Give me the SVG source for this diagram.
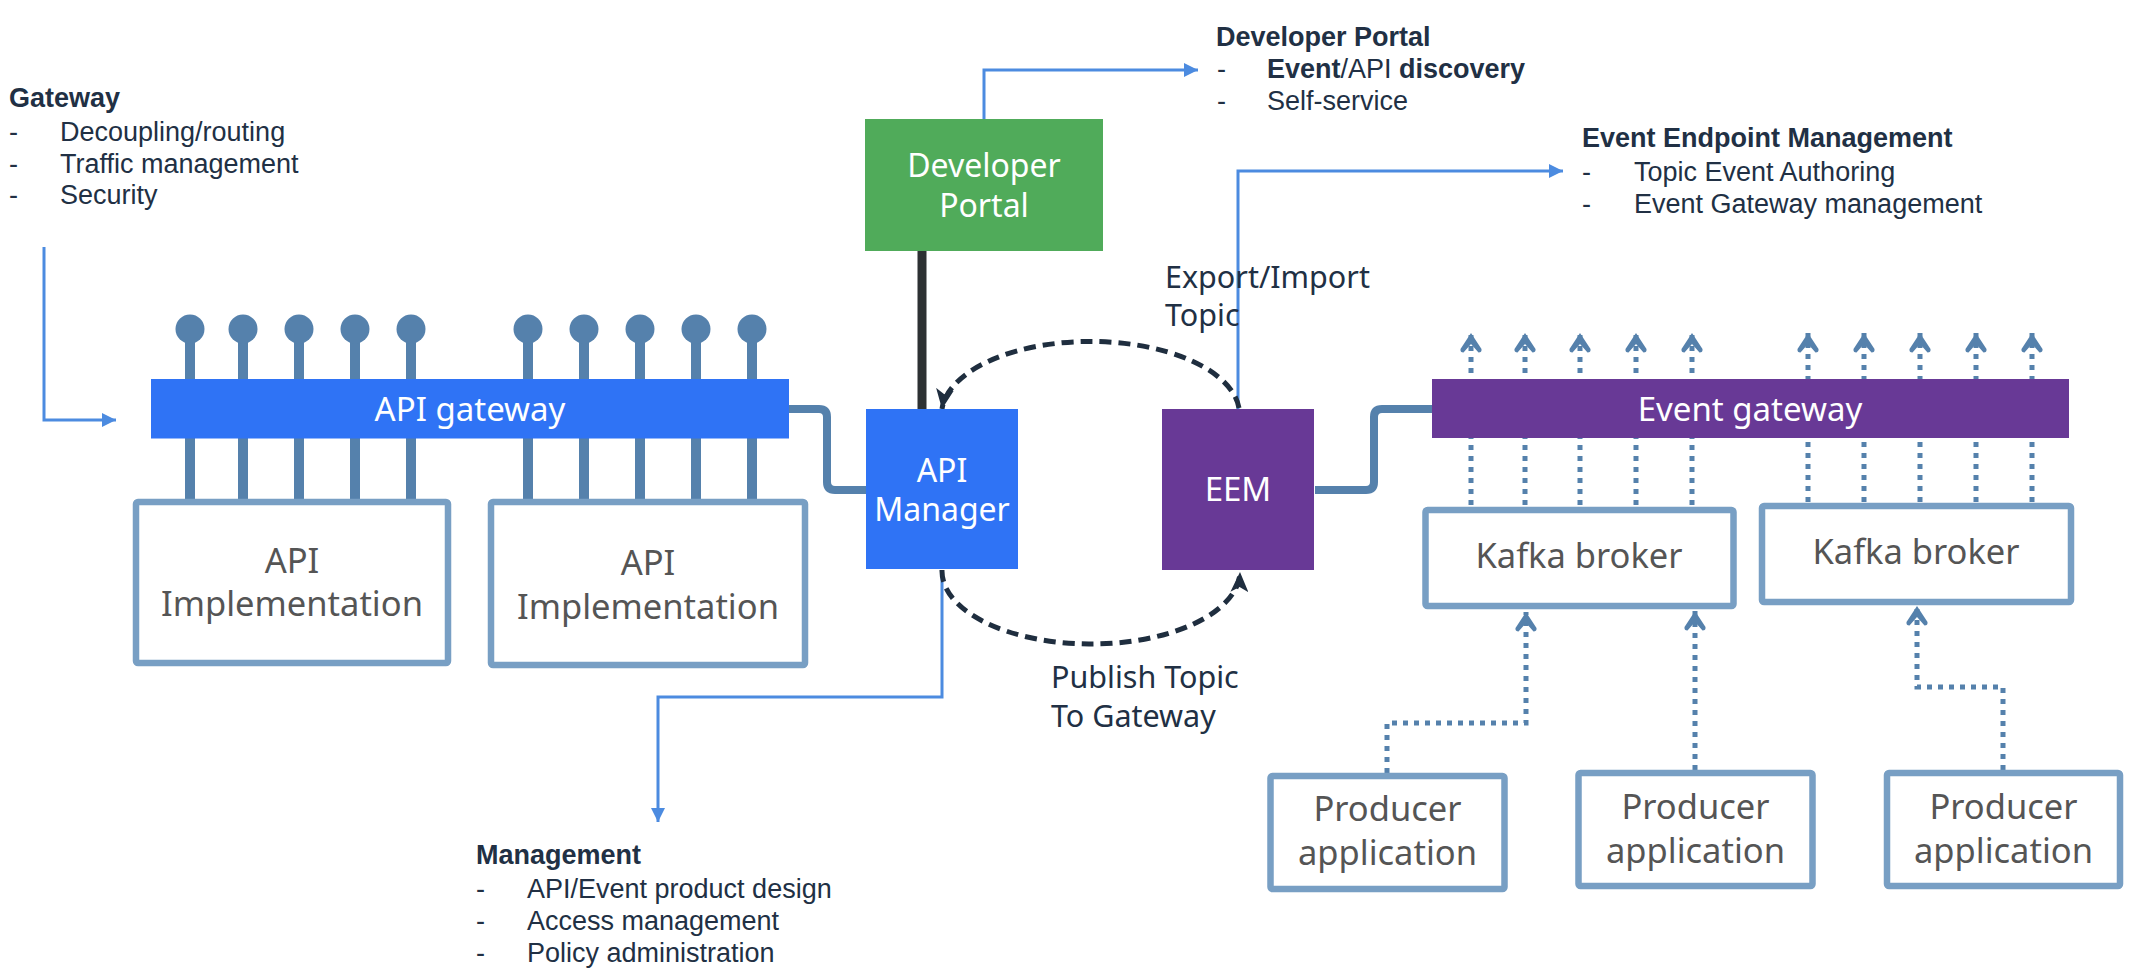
<svg xmlns="http://www.w3.org/2000/svg" width="2138" height="978" viewBox="0 0 2138 978">
<style>
.ann{font-family:"Liberation Sans",Arial,sans-serif;font-size:27px;fill:#213044}
.b{font-weight:bold}
.lbl{font-family:"Noto Sans","Open Sans",sans-serif;font-size:30.5px;fill:#213044}
.nt{font-family:"Noto Sans","Open Sans",sans-serif;font-size:34.5px;text-anchor:middle}
.w{fill:#ffffff}
.g{fill:#555555}
.box{fill:#ffffff;stroke:#789fc4;stroke-width:6.5}
.stem{stroke:#5581ac;stroke-width:10;fill:none}
.pipe{stroke:#5581ac;stroke-width:8;fill:none}
.dot{stroke:#5581ac;stroke-width:5;fill:none;stroke-dasharray:5 6}
.thin{stroke:#4c8be0;stroke-width:3;fill:none}
.arc{stroke:#1f2e3f;stroke-width:5;fill:none;stroke-dasharray:12 7}
</style>
<defs>
<marker id="blueArrow" viewBox="0 0 14 14" refX="14" refY="7" markerWidth="14" markerHeight="14" markerUnits="userSpaceOnUse" orient="auto">
<path d="M0,0 L14,7 L0,14 Z" fill="#4c8be0"/>
</marker>
<marker id="chev" viewBox="0 0 20 22" refX="20" refY="11" markerWidth="20" markerHeight="22" markerUnits="userSpaceOnUse" orient="auto">
<path d="M20,11 L4,0.5 Q0.5,0 0.5,3.5 L9,11 L0.5,18.5 Q0.5,22 4,21.5 Z" fill="#5581ac"/>
</marker>
<marker id="darkArrow" viewBox="0 0 20 18" refX="20" refY="9" markerWidth="20" markerHeight="18" markerUnits="userSpaceOnUse" orient="auto">
<path d="M0,0 L20,9 L0,18 L5,9 Z" fill="#1f2e3f"/>
</marker>
</defs>

<!-- annotation texts -->
<g id="gateway-notes">
<text class="ann b" x="9" y="107">Gateway</text>
<text class="ann" x="9" y="141">-</text><text class="ann" x="60" y="141">Decoupling/routing</text>
<text class="ann" x="9" y="173">-</text><text class="ann" x="60" y="173">Traffic management</text>
<text class="ann" x="9" y="204">-</text><text class="ann" x="60" y="204">Security</text>
</g>
<g id="devportal-notes">
<text class="ann b" x="1216" y="46">Developer Portal</text>
<text class="ann" x="1217" y="78">-</text><text class="ann" x="1267" y="78"><tspan class="b">Event</tspan>/API <tspan class="b">discovery</tspan></text>
<text class="ann" x="1217" y="110">-</text><text class="ann" x="1267" y="110">Self-service</text>
</g>
<g id="eem-notes">
<text class="ann b" x="1582" y="147">Event Endpoint Management</text>
<text class="ann" x="1582" y="181">-</text><text class="ann" x="1634" y="181">Topic Event Authoring</text>
<text class="ann" x="1582" y="213">-</text><text class="ann" x="1634" y="213">Event Gateway management</text>
</g>
<g id="management-notes">
<text class="ann b" x="476" y="864">Management</text>
<text class="ann" x="476" y="898">-</text><text class="ann" x="527" y="898">API/Event product design</text>
<text class="ann" x="476" y="930">-</text><text class="ann" x="527" y="930">Access management</text>
<text class="ann" x="476" y="962">-</text><text class="ann" x="527" y="962">Policy administration</text>
</g>

<!-- connectors -->
<g id="connectors">
<path class="thin" d="M44,247 V420 H116" marker-end="url(#blueArrow)"/>
<path class="thin" d="M984,119 V70 H1198" marker-end="url(#blueArrow)"/>
<path class="thin" d="M1238,409 V171 H1563" marker-end="url(#blueArrow)"/>
<path class="thin" d="M942,570 V697 H658 V822" marker-end="url(#blueArrow)"/>
<line x1="922" y1="251" x2="922" y2="409" stroke="#2d3133" stroke-width="9"/>
<path class="pipe" d="M789,409 H819 Q827,409 827,417 V482 Q827,490 835,490 H866"/>
<path class="pipe" d="M1315,490 H1366 Q1374,490 1374,482 V417 Q1374,409 1382,409 H1432"/>
<path class="arc" d="M1239,408 A149,73 0 0 0 942,409" marker-end="url(#darkArrow)"/>
<path class="arc" d="M942,570 A149,73 0 0 0 1240,572" marker-end="url(#darkArrow)"/>
<!-- lollipop stems -->
<g class="stems">
<line class="stem" x1="190" y1="329" x2="190" y2="500"/>
<line class="stem" x1="243" y1="329" x2="243" y2="500"/>
<line class="stem" x1="299" y1="329" x2="299" y2="500"/>
<line class="stem" x1="355" y1="329" x2="355" y2="500"/>
<line class="stem" x1="411" y1="329" x2="411" y2="500"/>
<line class="stem" x1="528" y1="329" x2="528" y2="500"/>
<line class="stem" x1="584" y1="329" x2="584" y2="500"/>
<line class="stem" x1="640" y1="329" x2="640" y2="500"/>
<line class="stem" x1="696" y1="329" x2="696" y2="500"/>
<line class="stem" x1="752" y1="329" x2="752" y2="500"/>
</g>
<g fill="#5581ac">
<circle cx="190" cy="329" r="14.5"/><circle cx="243" cy="329" r="14.5"/><circle cx="299" cy="329" r="14.5"/><circle cx="355" cy="329" r="14.5"/><circle cx="411" cy="329" r="14.5"/>
<circle cx="528" cy="329" r="14.5"/><circle cx="584" cy="329" r="14.5"/><circle cx="640" cy="329" r="14.5"/><circle cx="696" cy="329" r="14.5"/><circle cx="752" cy="329" r="14.5"/>
</g>
<!-- event dotted arrows -->
<g>
<path class="dot" d="M1471,505 V333" marker-end="url(#chev)"/>
<path class="dot" d="M1525,505 V333" marker-end="url(#chev)"/>
<path class="dot" d="M1580,505 V333" marker-end="url(#chev)"/>
<path class="dot" d="M1636,505 V333" marker-end="url(#chev)"/>
<path class="dot" d="M1692,505 V333" marker-end="url(#chev)"/>
<path class="dot" d="M1808,502 V333" marker-end="url(#chev)"/>
<path class="dot" d="M1864,502 V333" marker-end="url(#chev)"/>
<path class="dot" d="M1920,502 V333" marker-end="url(#chev)"/>
<path class="dot" d="M1976,502 V333" marker-end="url(#chev)"/>
<path class="dot" d="M2032,502 V333" marker-end="url(#chev)"/>
</g>
<path class="dot" d="M1387,773 V723 H1526 V612" marker-end="url(#chev)"/>
<path class="dot" d="M1695,770 V611" marker-end="url(#chev)"/>
<path class="dot" d="M2003,770 V687 H1917 V606" marker-end="url(#chev)"/>
</g>

<!-- labels -->
<g id="label-export">
<text class="lbl" x="1165" y="288">Export/Import</text>
<text class="lbl" x="1165" y="326">Topic</text>
</g>
<g id="label-publish">
<text class="lbl" x="1051" y="688">Publish Topic</text>
<text class="lbl" x="1051" y="727">To Gateway</text>
</g>

<!-- nodes -->
<g id="api-gateway">
<rect x="151" y="379" width="638" height="59.5" fill="#2f73f5"/>
<text class="nt w" x="470" y="421" style="font-size:33px">API gateway</text>
</g>
<g id="api-impl-1">
<rect class="box" x="136" y="502" width="312" height="161" rx="2"/>
<text class="nt g" x="292" y="573">API</text>
<text class="nt g" x="292" y="616">Implementation</text>
</g>
<g id="api-impl-2">
<rect class="box" x="491" y="502" width="314" height="163" rx="2"/>
<text class="nt g" x="648" y="575">API</text>
<text class="nt g" x="648" y="619">Implementation</text>
</g>
<g id="developer-portal">
<rect x="865" y="119" width="238" height="132" fill="#50ab5a"/>
<text class="nt w" x="984" y="177" style="font-size:32px">Developer</text>
<text class="nt w" x="984" y="217" style="font-size:32px">Portal</text>
</g>
<g id="api-manager">
<rect x="866" y="409" width="152" height="160" fill="#2f73f5"/>
<text class="nt w" x="942" y="482" style="font-size:32px">API</text>
<text class="nt w" x="942" y="521" style="font-size:32px">Manager</text>
</g>
<g id="eem">
<rect x="1162" y="409" width="152" height="161" fill="#683996"/>
<text class="nt w" x="1238" y="501" style="font-size:33px">EEM</text>
</g>
<g id="event-gateway">
<rect x="1432" y="379" width="637" height="59" fill="#683996"/>
<text class="nt w" x="1750" y="421" style="font-size:33px">Event gateway</text>
</g>
<g id="kafka-1">
<rect class="box" x="1425.5" y="510" width="308" height="96" rx="2"/>
<text class="nt g" x="1579" y="568">Kafka broker</text>
</g>
<g id="kafka-2">
<rect class="box" x="1762" y="506" width="309" height="96" rx="2"/>
<text class="nt g" x="1916" y="564">Kafka broker</text>
</g>
<g id="producer-1">
<rect class="box" x="1270.5" y="776" width="234" height="113" rx="2"/>
<text class="nt g" x="1387.5" y="821">Producer</text>
<text class="nt g" x="1387.5" y="865">application</text>
</g>
<g id="producer-2">
<rect class="box" x="1578.5" y="773" width="234" height="113" rx="2"/>
<text class="nt g" x="1695.5" y="819">Producer</text>
<text class="nt g" x="1695.5" y="863">application</text>
</g>
<g id="producer-3">
<rect class="box" x="1887" y="773" width="233" height="113" rx="2"/>
<text class="nt g" x="2003.5" y="819">Producer</text>
<text class="nt g" x="2003.5" y="863">application</text>
</g>
</svg>
